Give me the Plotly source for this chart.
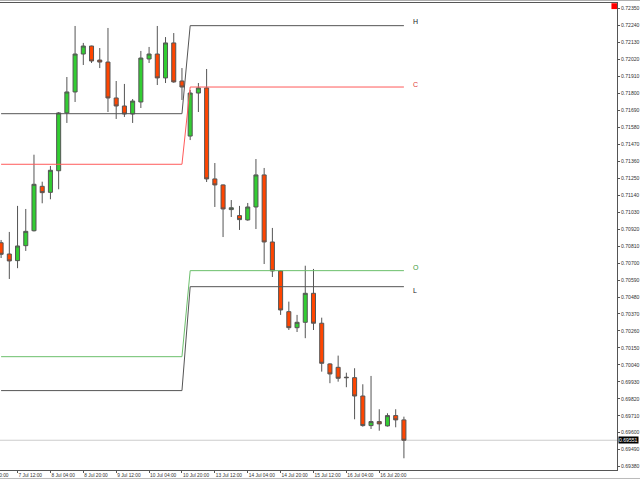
import plotly.graph_objects as go

# ---- H4 candles (7 Jul 04:00 .. 17 Jul 08:00) ----
opens = [0.70832, 0.70759, 0.70716, 0.70813, 0.70910, 0.71198, 0.71159, 0.71299, 0.71674, 0.71810,
         0.72056, 0.72108, 0.72017, 0.72004, 0.71771, 0.71719, 0.71667, 0.71745, 0.72024, 0.72056,
         0.71901, 0.72128, 0.71881, 0.71524, 0.71803, 0.71836, 0.71246, 0.71207, 0.71047, 0.71008,
         0.70980, 0.71064, 0.71272, 0.70837, 0.70649, 0.70385, 0.70281, 0.70316, 0.70504, 0.70310,
         0.70046, 0.70024, 0.69960, 0.69957, 0.69838, 0.69646, 0.69672, 0.69644, 0.69711, 0.69683]
highs = [0.70850, 0.70902, 0.71071, 0.71051, 0.71403, 0.71228, 0.71330, 0.71680, 0.71907, 0.72238,
         0.72128, 0.72110, 0.72095, 0.72225, 0.71881, 0.71862, 0.71764, 0.72076, 0.72102, 0.72238,
         0.72166, 0.72192, 0.71965, 0.71823, 0.71868, 0.71959, 0.71349, 0.71210, 0.71109, 0.71071,
         0.71090, 0.71375, 0.71317, 0.70928, 0.70655, 0.70450, 0.70364, 0.70683, 0.70662, 0.70346,
         0.70050, 0.70100, 0.69989, 0.70018, 0.69914, 0.69968, 0.69752, 0.69726, 0.69752, 0.69704]
lows = [0.70733, 0.70597, 0.70667, 0.70779, 0.70905, 0.71088, 0.71114, 0.71179, 0.71609, 0.71745,
        0.71985, 0.71998, 0.71965, 0.71680, 0.71635, 0.71648, 0.71609, 0.71706, 0.71998, 0.71855,
        0.71868, 0.71870, 0.71758, 0.71498, 0.71680, 0.71226, 0.71064, 0.70869, 0.70999, 0.70915,
        0.70975, 0.70921, 0.70694, 0.70610, 0.70364, 0.70266, 0.70253, 0.70213, 0.70266, 0.69996,
        0.69921, 0.69931, 0.69895, 0.69687, 0.69639, 0.69624, 0.69613, 0.69640, 0.69635, 0.69434]
closes = [0.70757, 0.70714, 0.70811, 0.70906, 0.71211, 0.71157, 0.71302, 0.71674, 0.71810, 0.72056,
          0.72108, 0.72011, 0.72004, 0.71771, 0.71719, 0.71667, 0.71751, 0.72030, 0.72056, 0.71901,
          0.72128, 0.71875, 0.71842, 0.71803, 0.71836, 0.71246, 0.71207, 0.71051, 0.71059, 0.70982,
          0.71064, 0.71272, 0.70837, 0.70649, 0.70396, 0.70281, 0.70316, 0.70504, 0.70310, 0.70050,
          0.69981, 0.69953, 0.69957, 0.69838, 0.69646, 0.69672, 0.69657, 0.69711, 0.69683, 0.69551]

# previous-week levels: [week before, new week]; new week starts at candle index 23
week_break = 23
H_levels = [0.71669, 0.72240]
C_levels = [0.71341, 0.71842]
O_levels = [0.70093, 0.70651]
L_levels = [0.69873, 0.70547]

# x-axis time labels (candle index, text)
tick_idx = [2, 6, 10, 14, 18, 22, 26, 30, 34, 38, 42, 46]
tick_text = ["7 Jul 12:00", "8 Jul 04:00", "8 Jul 20:00", "9 Jul 12:00", "10 Jul 04:00",
             "10 Jul 20:00", "13 Jul 12:00", "14 Jul 04:00", "14 Jul 20:00", "15 Jul 12:00",
             "16 Jul 04:00", "16 Jul 20:00"]
left_cut_idx = -2
left_cut_text = "6 Jul 20:00"

price_ticks = [0.69380, 0.69490, 0.69600, 0.69710, 0.69820, 0.69930, 0.70040, 0.70150,
               0.70260, 0.70370, 0.70480, 0.70590, 0.70700, 0.70810, 0.70920, 0.71030,
               0.71140, 0.71250, 0.71360, 0.71470, 0.71580, 0.71690, 0.71800, 0.71910,
               0.72020, 0.72130, 0.72240, 0.72350]

n = len(closes)
idx = list(range(n))
XR = [-0.134, 74.92]
YR = [0.69358, 0.72387]
FONT = "Liberation Sans"
XFONT = 4.8
YFONT = 5.1

fig = go.Figure()

def level_series(levels):
    return [levels[0] if i < week_break else levels[1] for i in idx]

level_defs = [("H", H_levels, "#555555", "#222222", 4), ("C", C_levels, "#ff5a5a", "#e03a3a", 3),
              ("O", O_levels, "#6cbf6c", "#3a9a3a", 3), ("L", L_levels, "#555555", "#222222", -4)]
for name, lv, col, tcol, ysh in level_defs:
    fig.add_trace(go.Scatter(x=idx, y=level_series(lv), mode="lines",
                             line=dict(color=col, width=1), hoverinfo="skip", showlegend=False))
    fig.add_annotation(x=idx[-1], y=lv[1], xref="x", yref="y", text=name, showarrow=False,
                       xanchor="left", yanchor="middle", xshift=7, yshift=ysh,
                       font=dict(family=FONT, size=7, color=tcol))

fig.add_trace(go.Candlestick(
    x=idx, open=opens, high=highs, low=lows, close=closes,
    increasing=dict(fillcolor="#32CD32", line=dict(color="#555555", width=1)),
    decreasing=dict(fillcolor="#FF4500", line=dict(color="#555555", width=1)),
    whiskerwidth=0, showlegend=False, hoverinfo="skip"))

# current price line and tag
fig.add_shape(type="line", xref="paper", x0=0, x1=1, yref="y", y0=closes[-1], y1=closes[-1],
              line=dict(color="#cccccc", width=1), layer="below")
fig.add_annotation(xref="paper", x=1, y=closes[-1], yref="y", text=f"{closes[-1]:.5f}",
                   showarrow=False, xanchor="left", yanchor="middle", xshift=1,
                   bgcolor="#000000", font=dict(family=FONT, size=YFONT, color="#ffffff"),
                   borderpad=0)

# cut-off first time label at the left edge
fig.add_annotation(xref="paper", yref="paper", x=(left_cut_idx - XR[0]) / (XR[1] - XR[0]), y=0,
                   text=left_cut_text, showarrow=False, xanchor="left", yanchor="top",
                   xshift=-2, yshift=-1, font=dict(family=FONT, size=XFONT, color="#333333"))

# red marker at top right corner
fig.add_shape(type="rect", xref="paper", yref="paper", x0=0.991, x1=1.0, y0=0.987, y1=0.9995,
              fillcolor="#ff0000", line=dict(width=0))
# window frame lines (top and bottom)
fig.add_shape(type="line", xref="paper", yref="paper", x0=0, x1=1.04, y0=1.0055, y1=1.0055,
              line=dict(color="#aaaaaa", width=1))
fig.add_shape(type="line", xref="paper", yref="paper", x0=0, x1=1.04, y0=-0.0182, y1=-0.0182,
              line=dict(color="#bbbbbb", width=1))

fig.update_layout(
    width=640, height=480,
    margin=dict(l=0, r=23, t=3, b=10, pad=0),
    paper_bgcolor="white", plot_bgcolor="white",
    showlegend=False,
    xaxis=dict(range=XR, tickvals=tick_idx, ticktext=tick_text, ticks="outside", ticklen=2,
               tickcolor="#555555", ticklabelposition="outside right", tickangle=0,
               tickfont=dict(family=FONT, size=XFONT, color="#333333"),
               showgrid=False, zeroline=False, showline=True, linecolor="#555555",
               mirror=True, rangeslider=dict(visible=False), automargin=False, fixedrange=True),
    yaxis=dict(range=YR, side="right", tickvals=price_ticks,
               ticktext=[f"{v:.5f}" for v in price_ticks], ticks="outside", ticklen=2,
               tickcolor="#555555", tickfont=dict(family=FONT, size=YFONT, color="#333333"),
               showgrid=False, zeroline=False, showline=True, linecolor="#555555",
               automargin=False, fixedrange=True),
)

fig.write_html("out.html", config={"displayModeBar": False},
               post_script="document.body.style.margin='0';document.body.style.overflow='hidden';")
